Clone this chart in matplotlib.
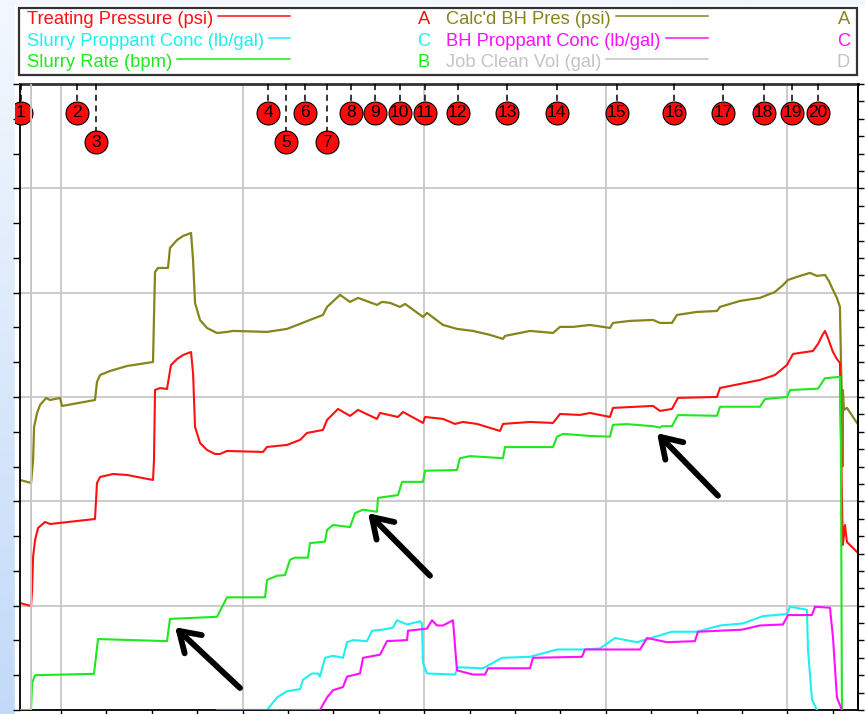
import numpy as np
import matplotlib.pyplot as plt
from matplotlib.patches import Rectangle
from matplotlib.lines import Line2D
from matplotlib.colors import LinearSegmentedColormap
from matplotlib.transforms import blended_transform_factory

plt.rcParams['font.family'] = ['Liberation Sans', 'DejaVu Sans']

# ---- data (time in minutes) ----
tp_time = [5.48, 6.70, 6.81, 6.92, 7.14, 7.47, 8.24, 8.79, 13.74, 13.96, 14.30, 15.73, 17.27,
           20.13, 20.24, 20.35, 20.90, 21.67, 22.11, 22.78, 23.44, 24.32, 24.54, 24.76, 25.31,
           26.08, 26.96, 27.51, 28.28, 32.25, 32.69, 34.89, 36.32, 37.09, 38.85, 39.30, 40.51,
           41.83, 42.71, 44.80, 45.13, 47.11, 47.67, 49.87, 50.09, 52.07, 53.39, 54.27, 55.81,
           58.35, 58.68, 61.65, 64.19, 64.96, 67.16, 68.26, 70.46, 70.79, 75.20, 75.97, 77.29,
           77.95, 82.25, 82.58, 86.98, 88.63, 89.96, 90.62, 92.82, 93.37, 93.81, 94.14, 94.47,
           95.02, 95.46, 95.79, 96.01, 96.12, 96.34, 96.56, 97.78]
tp_psi = [1538, 1495, 1725, 2200, 2444, 2617, 2703, 2674, 2746, 3264, 3350, 3393, 3379,
          3307, 3594, 4601, 4629, 4615, 4960, 5046, 5104, 5147, 4845, 4069, 3839,
          3738, 3681, 3681, 3724, 3710, 3782, 3811, 3883, 3983, 4026, 4170, 4328,
          4228, 4314, 4185, 4271, 4213, 4285, 4127, 4213, 4185, 4113, 4141, 4113,
          4012, 4113, 4141, 4127, 4256, 4242, 4271, 4213, 4343, 4372, 4300, 4328,
          4487, 4501, 4630, 4745, 4816, 4961, 5119, 5162, 5262, 5377, 5450, 5348,
          5148, 5046, 4990, 3020, 2373, 2660, 2416, 2258]

bh_time = [5.48, 6.70, 6.92, 7.03, 7.36, 7.69, 8.35, 8.79, 9.89, 10.11, 13.74, 13.96, 14.30,
           15.40, 17.27, 20.13, 20.35, 20.68, 21.78, 22.00, 22.78, 23.44, 24.32, 24.54, 24.76,
           25.31, 26.08, 27.18, 28.28, 28.94, 32.69, 34.89, 36.32, 37.42, 38.85, 39.30, 40.73,
           41.83, 42.71, 44.80, 45.35, 46.23, 47.33, 47.89, 49.87, 50.31, 52.07, 53.61, 55.37,
           57.25, 58.68, 58.90, 61.65, 64.19, 64.96, 66.39, 68.26, 70.46, 70.79, 72.67, 75.20,
           75.97, 77.29, 77.84, 80.04, 82.25, 82.58, 84.78, 86.98, 88.63, 89.52, 90.07, 91.06,
           91.72, 92.49, 93.26, 94.14, 94.58, 95.02, 95.46, 95.79, 95.90, 96.01, 96.06, 96.12,
           96.23, 96.56, 97.67]
bh_psi = [3307, 3264, 3594, 4069, 4270, 4385, 4486, 4457, 4486, 4371, 4457, 4716, 4816,
          4874, 4946, 5003, 6297, 6355, 6355, 6642, 6757, 6815, 6858, 6470, 5851,
          5607, 5492, 5420, 5435, 5450, 5436, 5479, 5551, 5608, 5680, 5795, 5968,
          5867, 5925, 5824, 5867, 5853, 5795, 5838, 5651, 5709, 5536, 5479, 5450,
          5393, 5335, 5378, 5450, 5421, 5508, 5508, 5536, 5493, 5565, 5594, 5608,
          5565, 5565, 5680, 5723, 5737, 5795, 5881, 5925, 6010, 6110, 6183, 6227,
          6254, 6284, 6241, 6255, 6168, 6040, 5923, 5795, 5033, 4458, 3500, 4600,
          4314, 4343, 4127]

rate_time = [5.48, 6.70, 6.81, 7.14, 13.63, 14.07, 21.67, 22.00, 27.18, 27.73, 28.28, 32.47,
             32.69, 33.79, 34.67, 35.22, 35.77, 37.20, 37.42, 39.07, 39.30, 39.96, 41.83, 42.38,
             43.26, 44.80, 44.91, 47.11, 47.56, 49.87, 50.09, 53.61, 53.94, 55.04, 58.68, 58.90,
             64.19, 64.63, 65.29, 68.26, 70.46, 70.79, 72.33, 75.20, 75.97, 76.19, 77.29, 77.95,
             82.25, 82.58, 86.98, 87.53, 89.96, 90.29, 93.37, 94.14, 95.79, 95.90, 96.01]
rate_bpm = [0.0, 0.0, 3.9, 5.0, 5.2, 10.2, 9.9, 13.1, 13.4, 14.8, 16.2, 16.2,
            18.7, 19.3, 19.4, 21.6, 21.9, 21.9, 24.0, 24.2, 25.9, 26.6, 26.3, 28.3,
            28.8, 28.5, 30.5, 30.9, 32.8, 32.8, 34.4, 34.5, 36.2, 36.5, 36.2, 37.8,
            37.8, 39.3, 39.7, 39.4, 39.3, 41.0, 41.1, 40.8, 40.6, 40.8, 40.8, 42.4,
            42.3, 43.6, 43.6, 44.7, 45.0, 46.0, 46.2, 47.7, 47.9, 37.4, 0.0]

sc_time = [27.18, 32.69, 33.79, 34.89, 36.32, 36.65, 37.64, 38.30, 38.52, 39.07, 39.96, 41.06,
           41.50, 42.16, 43.70, 44.25, 45.46, 46.56, 47.00, 48.11, 49.54, 49.76, 49.87, 50.31,
           53.39, 53.72, 56.48, 58.57, 61.65, 64.63, 67.49, 69.36, 71.01, 73.44, 77.29, 80.04,
           82.58, 85.11, 87.31, 89.96, 90.29, 92.16, 92.27, 92.71, 93.26]
sc_ppg = [0.0, 0.0, 0.12, 0.18, 0.20, 0.29, 0.35, 0.35, 0.32, 0.50, 0.52, 0.50,
          0.65, 0.67, 0.66, 0.76, 0.77, 0.79, 0.86, 0.82, 0.85, 0.83, 0.45, 0.35,
          0.34, 0.41, 0.40, 0.50, 0.51, 0.58, 0.58, 0.59, 0.69, 0.65, 0.75, 0.75,
          0.81, 0.83, 0.90, 0.92, 0.99, 0.96, 0.58, 0.10, 0.0]

bc_time = [27.18, 38.52, 39.30, 39.96, 41.06, 41.50, 42.93, 43.26, 45.13, 45.90, 48.11, 48.22,
           50.31, 50.86, 51.41, 52.07, 53.17, 53.61, 55.37, 56.70, 57.03, 61.65, 61.98, 67.38,
           67.71, 73.77, 74.54, 76.74, 79.82, 80.15, 85.00, 86.98, 89.52, 90.07, 92.71, 93.04,
           94.69, 95.02, 95.46, 96.01]
bc_ppg = [0.0, 0.0, 0.12, 0.19, 0.22, 0.32, 0.35, 0.50, 0.53, 0.66, 0.67, 0.76,
          0.78, 0.86, 0.81, 0.81, 0.86, 0.38, 0.34, 0.34, 0.40, 0.40, 0.50, 0.51,
          0.58, 0.58, 0.69, 0.65, 0.66, 0.75, 0.77, 0.81, 0.82, 0.91, 0.91, 0.99,
          0.98, 0.70, 0.12, 0.0]

cv_time = [6.70, 6.75]
cv_gal = [0, 5000]

ev_time = [5.55, 11.8, 13.9, 32.8, 34.8, 36.9, 39.3, 41.9, 44.6, 47.3,
           50.1, 53.7, 59.1, 64.6, 71.2, 77.5, 82.9, 87.4, 90.5, 93.4]
ev_row = [0, 0, 1, 0, 1, 0, 1, 0, 0, 0, 0, 0, 0, 0, 0, 0, 0, 0, 0, 0]

leg_names = ['Treating Pressure (psi)', 'Slurry Proppant Conc (lb/gal)', 'Slurry Rate (bpm)',
             "Calc'd BH Pres (psi)", 'BH Proppant Conc (lb/gal)', 'Job Clean Vol (gal)']
leg_axis = ['A', 'C', 'B', 'A', 'C', 'D']

RED, CYAN, GREEN = '#ff1010', '#1ef0f0', '#1ee81e'
OLIVE, MAGENTA, GRAY = '#85851c', '#ff10ff', '#c4c4c4'
leg_colors = [RED, CYAN, GREEN, OLIVE, MAGENTA, GRAY]

W, H = 865, 714
fig = plt.figure(figsize=(W / 100, H / 100), dpi=100)

# background: blue gradient + white panel
bg = fig.add_axes([0, 0, 1, 1], zorder=-10)
grad = np.linspace(0, 1, 256).reshape(-1, 1)
bg.imshow(grad, aspect='auto', extent=[0, 1, 0, 1], origin='upper',
          cmap=LinearSegmentedColormap.from_list('bg', ['#f3f8fe', '#c2daf8']))
bg.add_patch(Rectangle((15 / W, 0), 1, 1 - 5 / H, color='white', transform=bg.transAxes))
bg.set_xlim(0, 1)
bg.set_ylim(0, 1)
bg.axis('off')
panel_clip = Rectangle((15 / W, 0), 1, 1, transform=fig.transFigure)

ax = fig.add_axes([20 / W, 4 / H, 838 / W, 626 / H])
ax_b = ax.twinx()
ax_c = ax.twinx()
ax_d = ax.twinx()

ax.set_xlim(5.48, 97.78)
ax.set_ylim(0, 9000)
ax_b.set_ylim(0, 90)
ax_c.set_ylim(0, 6)
ax_d.set_ylim(0, 100)

ax.set_xticks(np.arange(10, 91, 20))
ax.set_xticks(np.arange(10, 97, 5), minor=True)
ax.set_yticks(np.arange(0, 9001, 1500))
ax.set_yticks(np.arange(0, 9001, 500), minor=True)
ax.tick_params(which='both', direction='out', length=5, width=1, color='black',
               labelbottom=False, labelleft=False)
ax.grid(True, which='major', color='#c8c8c8', lw=1.3)
ax.set_axisbelow(True)

ax_b.set_yticks(np.arange(0, 90.1, 2.5))
ax_b.tick_params(axis='y', direction='out', length=4, width=1, labelright=False)
for a in (ax_c, ax_d):
    a.set_yticks([])
    for s in a.spines.values():
        s.set_visible(False)
for s in ax_b.spines.values():
    s.set_visible(False)
ax_b.spines['right'].set_visible(True)
ax_b.spines['right'].set_linewidth(1.3)
for s in ax.spines.values():
    s.set_linewidth(1.3)
ax.spines['top'].set_color('#333333')
ax.spines['top'].set_linewidth(2)

# curves
ax_d.plot(cv_time, cv_gal, color=GRAY, lw=1.3)
ax.plot(bh_time, bh_psi, color=OLIVE, lw=1.6)
ax.plot(tp_time, tp_psi, color=RED, lw=1.5)
ax_c.plot(sc_time, sc_ppg, color=CYAN, lw=1.5)
ax_c.plot(bc_time, bc_ppg, color=MAGENTA, lw=1.5)
ax_b.plot(rate_time, rate_bpm, color=GREEN, lw=1.5)

# event markers
trans = blended_transform_factory(ax.transData, ax.transAxes)
row_y = [0.9537, 0.9073]
for i, (t, r) in enumerate(zip(ev_time, ev_row)):
    y = row_y[r]
    ax.plot([t, t], [1, y], ls=(0, (4, 3)), color='black', lw=1.1,
            transform=trans, clip_on=False, zorder=4)
    mk, = ax.plot(t, y, 'o', ms=16.5, mfc='#ff0a0a', mec='black', mew=0.8,
                  transform=trans, zorder=5)
    mk.set_clip_path(panel_clip)
    tx = ax.text(t, y, str(i + 1), ha='center', va='center', fontsize=12.5,
                 transform=trans, zorder=6)
    tx.set_clip_path(panel_clip)

# arrows pointing at the rate steps
arrow_kw = dict(arrowstyle='->, head_length=0.7, head_width=0.45', lw=4.2,
                color='black', shrinkA=0, shrinkB=0, mutation_scale=20)
ax_b.annotate('', xy=(22.56, 11.9), xytext=(29.71, 3.16), arrowprops=arrow_kw)
ax_b.annotate('', xy=(43.81, 28.3), xytext=(50.64, 19.3), arrowprops=arrow_kw)
ax_b.annotate('', xy=(75.64, 39.8), xytext=(82.36, 30.8), arrowprops=arrow_kw)

# legend box
fig.add_artist(Rectangle((19 / W, 1 - 75 / H), 838 / W, 67 / H, transform=fig.transFigure,
                         fill=False, ec='#333333', lw=1.6))
col_x = [27, 446]
line_end = [290, 708]
letter_x = [430, 850]
base_y = [24, 46, 67]
mid_y = [16, 38, 59]
texts = []
for k, (name, letter, c) in enumerate(zip(leg_names, leg_axis, leg_colors)):
    col, row = divmod(k, 3)
    t = fig.text(col_x[col] / W, 1 - base_y[row] / H, name, color=c, fontsize=13.2,
                 va='baseline', ha='left')
    fig.text(letter_x[col] / W, 1 - base_y[row] / H, letter, color=c, fontsize=13.2,
             va='baseline', ha='right')
    texts.append((t, col, row, c))

fig.canvas.draw()
for t, col, row, c in texts:
    x1 = t.get_window_extent().x1
    fig.add_artist(Line2D([(x1 + 5) / W, line_end[col] / W],
                          [1 - mid_y[row] / H] * 2, color=c, lw=1.1,
                          transform=fig.transFigure))

fig.savefig('out.png', dpi=100)
